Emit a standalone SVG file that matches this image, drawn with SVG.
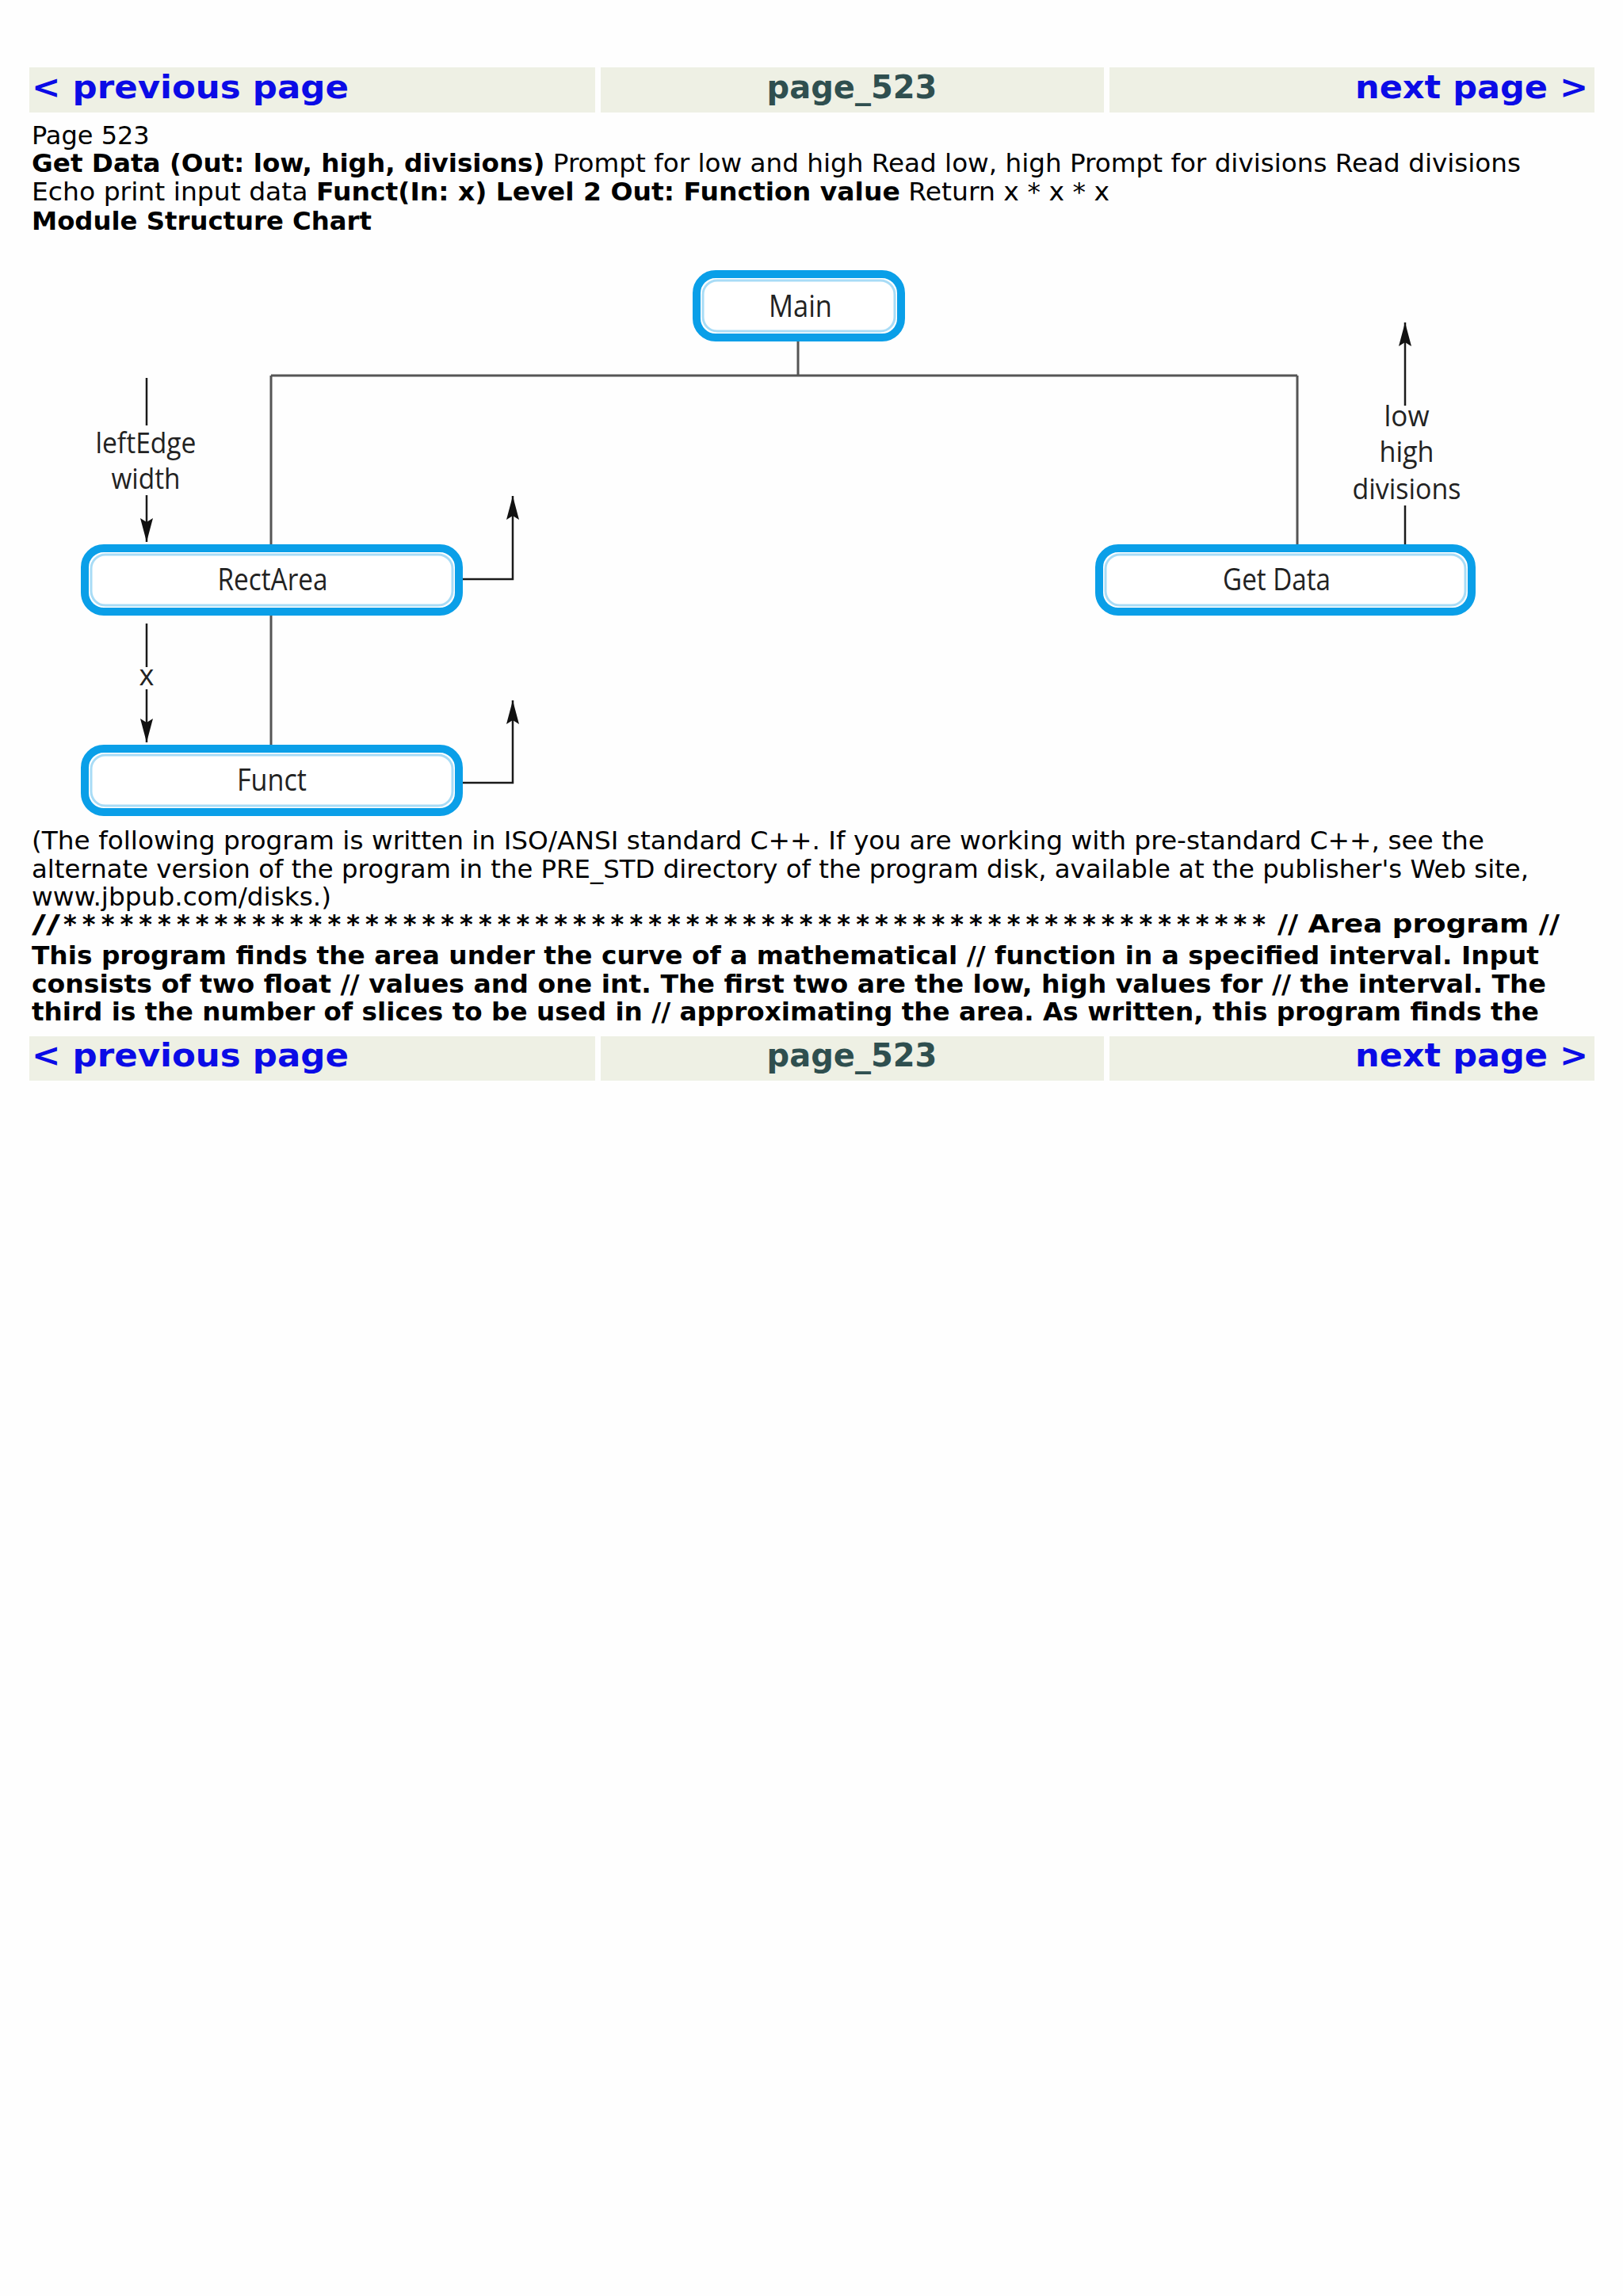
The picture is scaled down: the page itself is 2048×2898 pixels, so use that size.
<svg xmlns="http://www.w3.org/2000/svg" width="2048" height="2898" viewBox="0 0 2048 2898">
<defs>
<style>
.navbg{fill:#eef0e4}
.nav{font-family:"DejaVu Sans","Liberation Sans",sans-serif;font-weight:bold;font-size:40px}
.link{fill:#0b0be6}
.pg{fill:#2f4f4f}
.t{font-family:"DejaVu Sans","Liberation Sans",sans-serif;font-size:32px;fill:#000}
.b{font-weight:bold}
.box{fill:#fff;stroke:#0a9fe8;stroke-width:10}
.boxin{fill:none;stroke:#a8dcf6;stroke-width:3}
.lbl{font-family:"Open Sans","Noto Sans",sans-serif;font-size:38px;fill:#222;text-anchor:middle}
.dl{font-family:"Open Sans","Noto Sans",sans-serif;font-size:36px;fill:#222;text-anchor:middle}
.tree{stroke:#555;stroke-width:3;fill:none}
.flow{stroke:#1a1a1a;stroke-width:2.5;fill:none}
</style>
<marker id="ah" markerUnits="userSpaceOnUse" markerWidth="32" markerHeight="18" refX="30" refY="8" orient="auto">
<path d="M0,0 L30,8 L0,16 L5,8 z" fill="#111"/>
</marker>
</defs>
<rect width="2048" height="2898" fill="#fefefe"/>

<g id="nav-top">
<rect class="navbg" x="37" y="85" width="714" height="57"/>
<rect class="navbg" x="758" y="85" width="635" height="57"/>
<rect class="navbg" x="1400" y="85" width="612" height="57"/>
<text class="nav link" x="40" y="124" textLength="400" lengthAdjust="spacingAndGlyphs">&lt; previous page</text>
<text class="nav pg" x="1075" y="124" text-anchor="middle">page_523</text>
<text class="nav link" x="1710" y="124" textLength="294" lengthAdjust="spacingAndGlyphs">next page &gt;</text>
</g>

<g id="header-text">
<text class="t" x="40" y="182">Page 523</text>
<text class="t" x="40" y="217" textLength="1879" lengthAdjust="spacingAndGlyphs"><tspan class="b">Get Data (Out: low, high, divisions)</tspan> Prompt for low and high Read low, high Prompt for divisions Read divisions</text>
<text class="t" x="40" y="253" textLength="1360" lengthAdjust="spacingAndGlyphs">Echo print input data <tspan class="b">Funct(In: x) Level 2 Out: Function value</tspan> Return x * x * x</text>
<text class="t b" x="40" y="290" textLength="429" lengthAdjust="spacingAndGlyphs">Module Structure Chart</text>
</g>

<g id="connectors">
<path class="tree" d="M1007,431 V474 M342,474 H1637 M342,474 V687 M1637,474 V687 M342,777 V940"/>
<path class="flow" d="M185,477 V537"/>
<path class="flow" d="M185,625 V684" marker-end="url(#ah)"/>
<path class="flow" d="M185,787 V842"/>
<path class="flow" d="M185,870 V937" marker-end="url(#ah)"/>
<path class="flow" d="M584,731 H647 V626" marker-end="url(#ah)"/>
<path class="flow" d="M584,988 H647 V884" marker-end="url(#ah)"/>
<path class="flow" d="M1773,687 V638"/>
<path class="flow" d="M1773,512 V407" marker-end="url(#ah)"/>
<text class="dl" x="184" y="572" textLength="127" lengthAdjust="spacingAndGlyphs">leftEdge</text>
<text class="dl" x="184" y="617" textLength="87" lengthAdjust="spacingAndGlyphs">width</text>
<text class="dl" x="185" y="865">x</text>
<text class="dl" x="1775" y="538" textLength="57" lengthAdjust="spacingAndGlyphs">low</text>
<text class="dl" x="1775" y="583" textLength="69" lengthAdjust="spacingAndGlyphs">high</text>
<text class="dl" x="1775" y="630" textLength="137" lengthAdjust="spacingAndGlyphs">divisions</text>
</g>

<g id="node-main">
<rect class="box" x="879" y="346" width="258" height="80" rx="24"/>
<rect class="boxin" x="887" y="354" width="242" height="64" rx="18"/>
<text class="lbl" x="1010" y="400" textLength="80" lengthAdjust="spacingAndGlyphs">Main</text>
</g>

<g id="node-rectarea">
<rect class="box" x="107" y="692" width="472" height="80" rx="24"/>
<rect class="boxin" x="115" y="700" width="456" height="64" rx="18"/>
<text class="lbl" x="344" y="745" textLength="139" lengthAdjust="spacingAndGlyphs">RectArea</text>
</g>

<g id="node-getdata">
<rect class="box" x="1387" y="692" width="470" height="80" rx="24"/>
<rect class="boxin" x="1395" y="700" width="454" height="64" rx="18"/>
<text class="lbl" x="1611" y="745" textLength="136" lengthAdjust="spacingAndGlyphs">Get Data</text>
</g>

<g id="node-funct">
<rect class="box" x="107" y="945" width="472" height="80" rx="24"/>
<rect class="boxin" x="115" y="953" width="456" height="64" rx="18"/>
<text class="lbl" x="343" y="998" textLength="88" lengthAdjust="spacingAndGlyphs">Funct</text>
</g>

<g id="body-text">
<text class="t" x="40" y="1072" textLength="1833" lengthAdjust="spacingAndGlyphs">(The following program is written in ISO/ANSI standard C++. If you are working with pre-standard C++, see the</text>
<text class="t" x="40" y="1108" textLength="1889" lengthAdjust="spacingAndGlyphs">alternate version of the program in the PRE_STD directory of the program disk, available at the publisher's Web site,</text>
<text class="t" x="40" y="1143" textLength="378" lengthAdjust="spacingAndGlyphs">www.jbpub.com/disks.)</text>
<text class="t b" x="40" y="1177"><tspan textLength="36" lengthAdjust="spacingAndGlyphs">//</tspan><tspan x="80" textLength="1517" lengthAdjust="spacing">****************************************************************</tspan></text>
<text class="t b" x="1612" y="1177" textLength="356" lengthAdjust="spacingAndGlyphs">// Area program //</text>
<text class="t b" x="40" y="1217" textLength="1902" lengthAdjust="spacingAndGlyphs">This program finds the area under the curve of a mathematical // function in a specified interval. Input</text>
<text class="t b" x="40" y="1253" textLength="1911" lengthAdjust="spacingAndGlyphs">consists of two float // values and one int. The first two are the low, high values for // the interval. The</text>
<text class="t b" x="40" y="1288" textLength="1902" lengthAdjust="spacingAndGlyphs">third is the number of slices to be used in // approximating the area. As written, this program finds the</text>
</g>

<g id="nav-bottom">
<rect class="navbg" x="37" y="1308" width="714" height="56"/>
<rect class="navbg" x="758" y="1308" width="635" height="56"/>
<rect class="navbg" x="1400" y="1308" width="612" height="56"/>
<text class="nav link" x="40" y="1346" textLength="400" lengthAdjust="spacingAndGlyphs">&lt; previous page</text>
<text class="nav pg" x="1075" y="1346" text-anchor="middle">page_523</text>
<text class="nav link" x="1710" y="1346" textLength="294" lengthAdjust="spacingAndGlyphs">next page &gt;</text>
</g>
</svg>
